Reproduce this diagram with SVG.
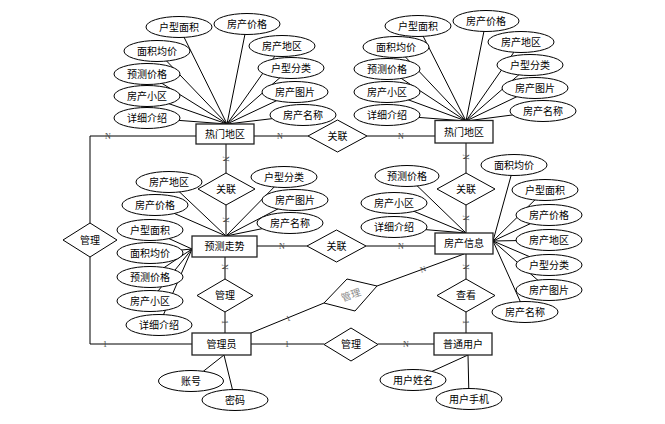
<svg xmlns="http://www.w3.org/2000/svg" width="665" height="424" viewBox="0 0 665 424">
<style>
text{font-family:"Noto Sans CJK SC","Liberation Sans",sans-serif;font-size:10px;fill:#000;text-anchor:middle}
.ent rect{fill:#fff;stroke:#222;stroke-width:1.3}
.att ellipse{fill:#fff;stroke:#000;stroke-width:1}
.rel polygon{fill:#fff;stroke:#000;stroke-width:1}
.conn line,.conn polyline{stroke:#000;stroke-width:1;fill:none}
.card{font-family:"Liberation Serif",serif;font-size:8px;fill:#444}
.grey{fill:#888}
</style>
<rect width="665" height="424" fill="#fff"/>
<g id="connectors" class="conn">
<!-- HL attributes -->
<line x1="227" y1="124" x2="179" y2="27"/><line x1="227" y1="124" x2="247" y2="24"/><line x1="227" y1="124" x2="157" y2="51"/><line x1="227" y1="124" x2="282" y2="46"/><line x1="227" y1="124" x2="147" y2="74"/><line x1="227" y1="124" x2="291" y2="68"/><line x1="227" y1="124" x2="147" y2="96"/><line x1="227" y1="124" x2="295" y2="92"/><line x1="227" y1="124" x2="147" y2="118"/><line x1="227" y1="124" x2="303" y2="115"/>
<!-- HR attributes -->
<line x1="466" y1="121" x2="418" y2="26"/><line x1="466" y1="121" x2="486" y2="21"/><line x1="466" y1="121" x2="396" y2="47"/><line x1="466" y1="121" x2="521" y2="42"/><line x1="466" y1="121" x2="387" y2="69"/><line x1="466" y1="121" x2="530" y2="65"/><line x1="466" y1="121" x2="387" y2="92"/><line x1="466" y1="121" x2="535" y2="88"/><line x1="466" y1="121" x2="387" y2="115"/><line x1="466" y1="121" x2="543" y2="111"/>
<!-- YC attributes -->
<line x1="226" y1="236" x2="169" y2="182"/><line x1="226" y1="236" x2="284" y2="177"/><line x1="226" y1="236" x2="155" y2="205"/><line x1="226" y1="236" x2="295" y2="200"/><line x1="226" y1="236" x2="290" y2="223"/>
<line x1="192" y1="249" x2="150" y2="230"/><line x1="192" y1="249" x2="150" y2="253"/><line x1="192" y1="249" x2="150" y2="277"/><line x1="192" y1="249" x2="150" y2="301"/><line x1="192" y1="249" x2="159" y2="325"/>
<!-- FX attributes -->
<line x1="466" y1="233" x2="407" y2="176"/><line x1="466" y1="233" x2="394" y2="203"/><line x1="466" y1="233" x2="394" y2="227"/>
<line x1="493" y1="241" x2="514" y2="165"/><line x1="493" y1="241" x2="545" y2="190"/><line x1="493" y1="241" x2="549" y2="215"/><line x1="493" y1="241" x2="549" y2="240"/><line x1="493" y1="241" x2="549" y2="265"/><line x1="493" y1="241" x2="549" y2="290"/><line x1="493" y1="241" x2="525" y2="312"/>
<!-- admin / user attributes -->
<line x1="224" y1="355" x2="191" y2="381"/><line x1="224" y1="355" x2="235" y2="400"/>
<line x1="468" y1="355" x2="413" y2="380"/><line x1="468" y1="355" x2="469" y2="399"/>
<!-- relationships -->
<line x1="254" y1="136" x2="308" y2="136"/><line x1="367" y1="136" x2="435" y2="136"/>
<line x1="226" y1="144" x2="226" y2="173"/><line x1="226" y1="205" x2="226" y2="236"/>
<line x1="257" y1="246" x2="307" y2="246"/><line x1="366" y1="246" x2="435" y2="246"/>
<line x1="225" y1="257" x2="225" y2="279"/><line x1="225" y1="312" x2="225" y2="333"/>
<line x1="466" y1="143" x2="466" y2="173"/><line x1="466" y1="205" x2="466" y2="233"/>
<line x1="466" y1="254" x2="466" y2="279"/><line x1="466" y1="312" x2="466" y2="333"/>
<line x1="251" y1="344" x2="324" y2="344"/><line x1="378" y1="344" x2="434" y2="344"/>
<line x1="251" y1="333" x2="324" y2="303"/><line x1="377" y1="286" x2="464" y2="254"/>
<polyline points="196,136 90,136 90,223"/><polyline points="90,257 90,344 192,344"/>
</g>
<g id="cardinalities">
<text class="card" x="280" y="139">N</text>
<text class="card" x="401" y="139">N</text>
<text class="card" x="108" y="139">N</text>
<text class="card" x="105" y="347">1</text>
<text class="card" x="282" y="249">N</text>
<text class="card" x="401" y="249">N</text>
<text class="card" x="287" y="347">1</text>
<text class="card" x="406" y="347">N</text>
<text class="card" transform="translate(226,159) rotate(90)" y="3">N</text>
<text class="card" transform="translate(226,220) rotate(90)" y="3">N</text>
<text class="card" transform="translate(225,267) rotate(90)" y="3">N</text>
<text class="card" transform="translate(225,322) rotate(90)" y="3">1</text>
<text class="card" transform="translate(466,157) rotate(90)" y="3">N</text>
<text class="card" transform="translate(466,218) rotate(90)" y="3">N</text>
<text class="card" transform="translate(466,267) rotate(90)" y="3">N</text>
<text class="card" transform="translate(466,322) rotate(90)" y="3">1</text>
<text class="card" transform="translate(288,318) rotate(-22)" y="3">1</text>
<text class="card" transform="translate(423,269) rotate(-20)" y="3">N</text>
</g>
<!-- entities -->
<g id="hot-area-left" class="ent"><rect x="196" y="124" width="58" height="20"/><text x="225" y="137.5">热门地区</text></g>
<g id="hot-area-right" class="ent"><rect x="435" y="120.5" width="58" height="22.5"/><text x="464" y="135.5">热门地区</text></g>
<g id="forecast" class="ent"><rect x="192" y="236" width="65" height="21"/><text x="224.5" y="250">预测走势</text></g>
<g id="house-info" class="ent"><rect x="435" y="233" width="58" height="21"/><text x="464" y="247">房产信息</text></g>
<g id="admin" class="ent"><rect x="192" y="333" width="59" height="22"/><text x="221.5" y="347.5">管理员</text></g>
<g id="user" class="ent"><rect x="434" y="333" width="58" height="22"/><text x="463" y="347.5">普通用户</text></g>
<!-- relationships -->
<g id="rel-hot-link" class="rel"><polygon points="308,136 337.5,120 367,136 337.5,152"/><text x="337.5" y="139.5">关联</text></g>
<g id="rel-hot-forecast" class="rel"><polygon points="198,189 226,173 255,189 226,205"/><text x="226" y="192.5">关联</text></g>
<g id="rel-forecast-info" class="rel"><polygon points="307,246 336.5,230 366,246 336.5,262"/><text x="336.5" y="249.5">关联</text></g>
<g id="rel-hot-info" class="rel"><polygon points="437,189 466,173 495,189 466,205"/><text x="466" y="192.5">关联</text></g>
<g id="rel-forecast-admin" class="rel"><polygon points="197,295.5 225,279 253,295.5 225,312"/><text x="225" y="299">管理</text></g>
<g id="rel-info-user" class="rel"><polygon points="437,295.5 466,279 495,295.5 466,312"/><text x="466" y="299">查看</text></g>
<g id="rel-left-manage" class="rel"><polygon points="63,240 90,223 117,240 90,257"/><text x="90" y="243.5">管理</text></g>
<g id="rel-admin-user" class="rel"><polygon points="324,344.5 351,328 378,344.5 351,361"/><text x="351" y="348">管理</text></g>
<g id="rel-admin-info" class="rel"><polygon points="347,279 377,286 355,311 324,303"/><text class="grey" transform="translate(351,295) rotate(-20)" y="3.5">管理</text></g>
<!-- attributes: 热门地区 left -->
<g id="hl-attrs" class="att">
<ellipse cx="179" cy="27" rx="33" ry="10.5"/><text x="179" y="30.5">户型面积</text>
<ellipse cx="247" cy="24" rx="33" ry="10.5"/><text x="247" y="27.5">房产价格</text>
<ellipse cx="157" cy="51" rx="33" ry="10.5"/><text x="157" y="54.5">面积均价</text>
<ellipse cx="282" cy="46" rx="33" ry="10.5"/><text x="282" y="49.5">房产地区</text>
<ellipse cx="147" cy="74" rx="33" ry="10.5"/><text x="147" y="77.5">预测价格</text>
<ellipse cx="291" cy="68" rx="33" ry="10.5"/><text x="291" y="71.5">户型分类</text>
<ellipse cx="147" cy="96" rx="33" ry="10.5"/><text x="147" y="99.5">房产小区</text>
<ellipse cx="295" cy="92" rx="33" ry="10.5"/><text x="295" y="95.5">房产图片</text>
<ellipse cx="147" cy="118" rx="33" ry="10.5"/><text x="147" y="121.5">详细介绍</text>
<ellipse cx="303" cy="115" rx="33" ry="10.5"/><text x="303" y="118.5">房产名称</text>
</g>
<g id="hr-attrs" class="att">
<ellipse cx="418" cy="26" rx="33" ry="10.5"/><text x="418" y="29.5">户型面积</text>
<ellipse cx="486" cy="21" rx="33" ry="10.5"/><text x="486" y="24.5">房产价格</text>
<ellipse cx="396" cy="47" rx="33" ry="10.5"/><text x="396" y="50.5">面积均价</text>
<ellipse cx="521" cy="42" rx="33" ry="10.5"/><text x="521" y="45.5">房产地区</text>
<ellipse cx="387" cy="69" rx="33" ry="10.5"/><text x="387" y="72.5">预测价格</text>
<ellipse cx="530" cy="65" rx="33" ry="10.5"/><text x="530" y="68.5">户型分类</text>
<ellipse cx="387" cy="92" rx="33" ry="10.5"/><text x="387" y="95.5">房产小区</text>
<ellipse cx="535" cy="88" rx="33" ry="10.5"/><text x="535" y="91.5">房产图片</text>
<ellipse cx="387" cy="115" rx="33" ry="10.5"/><text x="387" y="118.5">详细介绍</text>
<ellipse cx="543" cy="111" rx="33" ry="10.5"/><text x="543" y="114.5">房产名称</text>
</g>
<g id="yc-attrs" class="att">
<ellipse cx="169" cy="182" rx="33" ry="10.5"/><text x="169" y="185.5">房产地区</text>
<ellipse cx="284" cy="177" rx="33" ry="10.5"/><text x="284" y="180.5">户型分类</text>
<ellipse cx="155" cy="205" rx="33" ry="10.5"/><text x="155" y="208.5">房产价格</text>
<ellipse cx="295" cy="200" rx="33" ry="10.5"/><text x="295" y="203.5">房产图片</text>
<ellipse cx="290" cy="223" rx="33" ry="10.5"/><text x="290" y="226.5">房产名称</text>
<ellipse cx="150" cy="230" rx="33" ry="10.5"/><text x="150" y="233.5">户型面积</text>
<ellipse cx="150" cy="253" rx="33" ry="10.5"/><text x="150" y="256.5">面积均价</text>
<ellipse cx="150" cy="277" rx="33" ry="10.5"/><text x="150" y="280.5">预测价格</text>
<ellipse cx="150" cy="301" rx="33" ry="10.5"/><text x="150" y="304.5">房产小区</text>
<ellipse cx="159" cy="325" rx="33" ry="10.5"/><text x="159" y="328.5">详细介绍</text>
</g>
<g id="fx-attrs" class="att">
<ellipse cx="407" cy="176" rx="32" ry="10.5"/><text x="407" y="179.5">预测价格</text>
<ellipse cx="394" cy="203" rx="33" ry="10.5"/><text x="394" y="206.5">房产小区</text>
<ellipse cx="394" cy="227" rx="33" ry="10.5"/><text x="394" y="230.5">详细介绍</text>
<ellipse cx="514" cy="165" rx="33" ry="10.5"/><text x="514" y="168.5">面积均价</text>
<ellipse cx="545" cy="190" rx="33" ry="10.5"/><text x="545" y="193.5">户型面积</text>
<ellipse cx="549" cy="215" rx="33" ry="10.5"/><text x="549" y="218.5">房产价格</text>
<ellipse cx="549" cy="240" rx="33" ry="10.5"/><text x="549" y="243.5">房产地区</text>
<ellipse cx="549" cy="265" rx="33" ry="10.5"/><text x="549" y="268.5">户型分类</text>
<ellipse cx="549" cy="290" rx="33" ry="10.5"/><text x="549" y="293.5">房产图片</text>
<ellipse cx="525" cy="312" rx="33" ry="10.5"/><text x="525" y="315.5">房产名称</text>
</g>
<g id="admin-attrs" class="att">
<ellipse cx="191" cy="381" rx="32.5" ry="10.5"/><text x="191" y="384.5">账号</text>
<ellipse cx="235" cy="400" rx="33" ry="10.5"/><text x="235" y="403.5">密码</text>
</g>
<g id="user-attrs" class="att">
<ellipse cx="413" cy="380" rx="33" ry="10.5"/><text x="413" y="383.5">用户姓名</text>
<ellipse cx="469" cy="399" rx="33" ry="10.5"/><text x="469" y="402.5">用户手机</text>
</g>
</svg>
